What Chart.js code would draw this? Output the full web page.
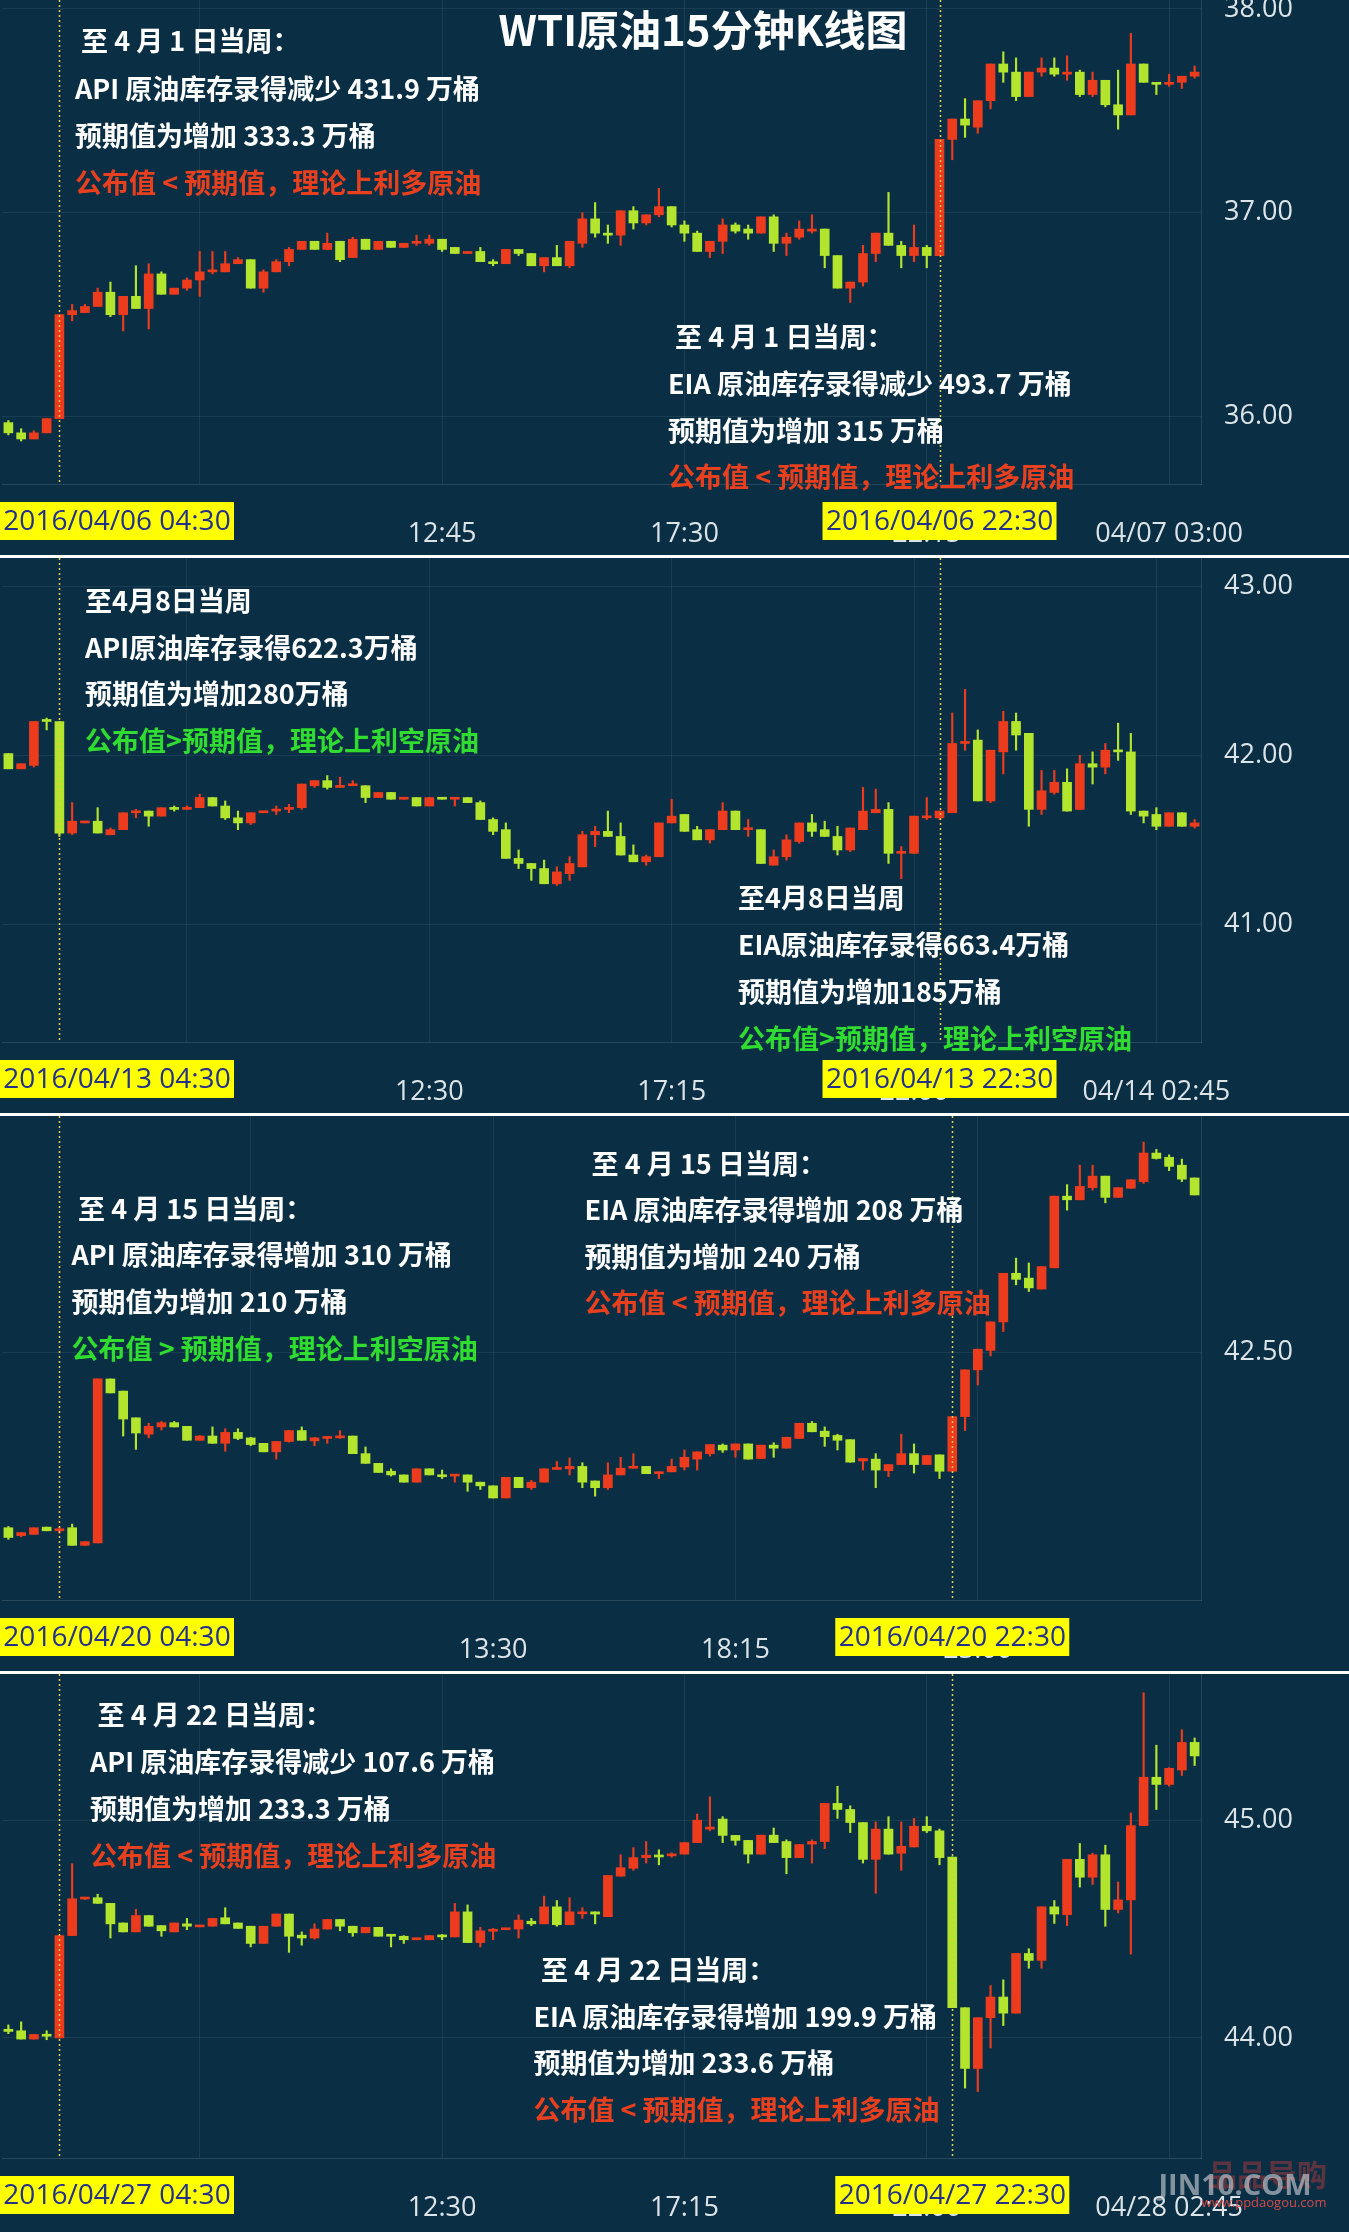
<!DOCTYPE html>
<html lang="zh-CN">
<head>
<meta charset="utf-8">
<title>WTI原油15分钟K线图</title>
<script src="https://cdn.jsdelivr.net/npm/chart.js@4.4.1/dist/chart.umd.min.js"></script>
<style>
  html, body { margin: 0; padding: 0; background: #0a2f45; }
  .panel { position: relative; width: 1349px; height: 558px; }
</style>
</head>
<body>
<div class="panel"><canvas id="panel1"></canvas></div>
<div class="panel"><canvas id="panel2"></canvas></div>
<div class="panel"><canvas id="panel3"></canvas></div>
<div class="panel"><canvas id="panel4"></canvas></div>
<script>
// ---- 2016/04/06 ~ 04/07 ----
const p1Open = [35.97,35.92,35.89,35.92,35.99,36.50,36.51,36.54,36.61,36.50,
  36.59,36.53,36.70,36.60,36.63,36.67,36.71,36.71,36.75,36.77,
  36.63,36.71,36.76,36.82,36.86,36.82,36.86,36.78,36.87,36.82,
  36.86,36.83,36.85,36.85,36.87,36.83,36.80,36.81,36.76,36.75,
  36.82,36.80,36.74,36.78,36.74,36.85,36.97,36.90,36.89,37.01,
  36.95,36.99,37.03,36.94,36.90,36.81,36.86,36.94,36.92,36.90,
  36.98,36.85,36.88,36.91,36.92,36.79,36.63,36.66,36.80,36.90,
  36.84,36.79,36.83,36.79,37.36,37.46,37.42,37.55,37.73,37.69,
  37.57,37.69,37.71,37.68,37.69,37.58,37.65,37.53,37.48,37.73,
  37.64,37.63,37.64,37.67];
const p1High = [35.98,35.94,35.93,35.99,36.50,36.55,36.55,36.63,36.66,36.59,
  36.74,36.75,36.71,36.63,36.68,36.81,36.81,36.81,36.78,36.77,
  36.72,36.77,36.83,36.86,36.86,36.90,36.86,36.88,36.87,36.86,
  36.86,36.85,36.89,36.89,36.87,36.83,36.81,36.83,36.77,36.82,
  36.82,36.80,36.78,36.84,36.86,37.00,37.05,36.94,37.01,37.03,
  36.99,37.12,37.03,36.96,36.91,36.86,36.97,36.95,36.94,36.98,
  36.99,36.90,36.96,36.99,36.92,36.79,36.66,36.84,36.90,37.10,
  36.86,36.94,36.84,37.36,37.46,37.56,37.55,37.73,37.79,37.76,
  37.69,37.76,37.76,37.77,37.70,37.69,37.65,37.70,37.88,37.73,
  37.64,37.68,37.67,37.72];
const p1Low = [35.91,35.88,35.89,35.92,35.99,36.47,36.51,36.54,36.49,36.42,
  36.53,36.43,36.60,36.60,36.62,36.59,36.70,36.71,36.75,36.63,
  36.61,36.71,36.74,36.82,36.82,36.82,36.76,36.78,36.82,36.82,
  36.83,36.83,36.84,36.84,36.81,36.80,36.80,36.76,36.74,36.75,
  36.79,36.74,36.71,36.74,36.73,36.83,36.88,36.85,36.84,36.92,
  36.94,36.98,36.93,36.86,36.81,36.78,36.80,36.90,36.87,36.90,
  36.81,36.79,36.87,36.90,36.73,36.63,36.56,36.64,36.76,36.84,
  36.73,36.76,36.73,36.79,37.26,37.37,37.39,37.51,37.64,37.55,
  37.57,37.67,37.67,37.65,37.57,37.57,37.52,37.41,37.48,37.64,
  37.58,37.62,37.61,37.66];
const p1Close = [35.92,35.89,35.92,35.99,36.50,36.52,36.54,36.61,36.50,36.59,
  36.53,36.70,36.60,36.63,36.67,36.71,36.715,36.75,36.77,36.63,
  36.71,36.76,36.82,36.86,36.82,36.85,36.77,36.87,36.82,36.86,
  36.83,36.85,36.855,36.87,36.82,36.80,36.81,36.76,36.75,36.82,
  36.80,36.74,36.78,36.74,36.86,36.97,36.90,36.89,37.01,36.95,
  36.99,37.03,36.94,36.90,36.81,36.86,36.94,36.91,36.90,36.98,
  36.85,36.88,36.92,36.92,36.79,36.63,36.66,36.80,36.90,36.84,
  36.79,36.83,36.79,37.36,37.46,37.43,37.55,37.73,37.69,37.57,
  37.69,37.71,37.68,37.69,37.58,37.65,37.53,37.48,37.73,37.64,
  37.63,37.64,37.67,37.69];
const p1TickIdx = [15, 34, 53, 72, 91];
const p1TickText = ['', '12:45', '17:30', '22:15', '04/07 03:00'];

// ---- 2016/04/13 ~ 04/14 ----
const p2Open = [42.01,41.92,41.94,42.21,42.20,41.54,41.60,41.61,41.53,41.56,
  41.66,41.67,41.64,41.69,41.68,41.69,41.75,41.70,41.63,41.60,
  41.66,41.67,41.68,41.69,41.82,41.85,41.81,41.82,41.82,41.75,
  41.78,41.74,41.75,41.70,41.75,41.74,41.75,41.72,41.62,41.56,
  41.39,41.36,41.33,41.24,41.30,41.34,41.53,41.55,41.52,41.41,
  41.37,41.40,41.60,41.65,41.56,41.50,41.56,41.67,41.56,41.56,
  41.35,41.40,41.49,41.60,41.56,41.52,41.44,41.56,41.66,41.68,
  41.42,41.42,41.63,41.63,41.66,42.07,42.09,41.73,42.02,42.20,
  42.13,41.68,41.78,41.84,41.68,41.95,41.93,42.03,42.02,41.67,
  41.65,41.58,41.66,41.58];
const p2High = [42.01,41.95,42.20,42.22,42.20,41.72,41.61,41.69,41.57,41.66,
  41.68,41.67,41.69,41.70,41.70,41.77,41.75,41.73,41.67,41.66,
  41.67,41.70,41.71,41.83,41.85,41.88,41.87,41.85,41.82,41.78,
  41.78,41.75,41.75,41.75,41.75,41.75,41.75,41.73,41.63,41.60,
  41.44,41.36,41.38,41.34,41.40,41.55,41.58,41.67,41.60,41.47,
  41.41,41.60,41.74,41.65,41.58,41.56,41.72,41.67,41.62,41.56,
  41.44,41.53,41.60,41.65,41.61,41.58,41.57,41.81,41.80,41.72,
  41.46,41.64,41.75,41.67,42.25,42.39,42.15,42.03,42.26,42.25,
  42.13,41.91,41.91,41.92,42.00,42.02,42.07,42.19,42.13,41.67,
  41.69,41.66,41.66,41.62];
const p2Low = [41.92,41.92,41.93,42.15,41.52,41.53,41.60,41.54,41.53,41.56,
  41.63,41.58,41.64,41.67,41.68,41.69,41.70,41.62,41.56,41.59,
  41.66,41.65,41.66,41.68,41.81,41.80,41.81,41.82,41.72,41.75,
  41.74,41.74,41.70,41.70,41.74,41.70,41.72,41.62,41.53,41.39,
  41.33,41.26,41.24,41.23,41.26,41.34,41.46,41.52,41.41,41.37,
  41.35,41.40,41.60,41.55,41.50,41.48,41.56,41.56,41.52,41.36,
  41.35,41.38,41.48,41.52,41.52,41.41,41.43,41.56,41.66,41.36,
  41.27,41.42,41.62,41.62,41.66,42.03,41.73,41.72,41.89,42.03,
  41.58,41.65,41.77,41.67,41.68,41.83,41.89,41.97,41.65,41.60,
  41.56,41.58,41.58,41.57];
const p2Close = [41.92,41.95,42.20,42.20,41.54,41.61,41.61,41.54,41.56,41.66,
  41.67,41.64,41.69,41.68,41.69,41.75,41.70,41.63,41.60,41.66,
  41.67,41.68,41.69,41.83,41.85,41.81,41.82,41.83,41.75,41.78,
  41.74,41.75,41.70,41.75,41.74,41.75,41.72,41.62,41.55,41.39,
  41.36,41.33,41.24,41.31,41.36,41.53,41.55,41.52,41.41,41.37,
  41.40,41.60,41.64,41.55,41.50,41.56,41.67,41.56,41.57,41.36,
  41.40,41.50,41.60,41.55,41.52,41.44,41.57,41.67,41.68,41.42,
  41.43,41.64,41.64,41.67,42.07,42.08,41.73,42.03,42.20,42.12,
  41.68,41.79,41.84,41.67,41.95,41.93,42.03,42.02,41.67,41.64,
  41.58,41.66,41.58,41.60];
const p2TickIdx = [14, 33, 52, 71, 90];
const p2TickText = ['', '12:30', '17:15', '22:00', '04/14 02:45'];

// ---- 2016/04/20 ----
const p3Open = [42.211,42.198,42.200,42.212,42.206,42.211,42.182,42.186,42.456,42.436,
  42.392,42.365,42.377,42.384,42.378,42.355,42.362,42.350,42.368,42.359,
  42.350,42.336,42.353,42.371,42.354,42.358,42.359,42.362,42.333,42.317,
  42.304,42.298,42.286,42.308,42.298,42.296,42.298,42.286,42.280,42.260,
  42.294,42.277,42.286,42.307,42.308,42.312,42.288,42.277,42.298,42.309,
  42.312,42.300,42.303,42.311,42.324,42.333,42.347,42.339,42.349,42.325,
  42.347,42.342,42.358,42.383,42.370,42.363,42.356,42.321,42.324,42.305,
  42.315,42.333,42.315,42.331,42.304,42.394,42.471,42.503,42.550,42.630,
  42.622,42.604,42.639,42.757,42.751,42.771,42.790,42.755,42.770,42.781,
  42.828,42.821,42.808,42.787];
const p3High = [42.213,42.203,42.211,42.212,42.212,42.217,42.188,42.456,42.456,42.436,
  42.392,42.383,42.386,42.386,42.378,42.363,42.377,42.374,42.374,42.360,
  42.350,42.353,42.371,42.377,42.360,42.360,42.371,42.362,42.344,42.317,
  42.308,42.298,42.308,42.308,42.306,42.298,42.298,42.286,42.280,42.294,
  42.294,42.289,42.308,42.320,42.326,42.318,42.288,42.318,42.327,42.333,
  42.312,42.303,42.324,42.339,42.336,42.348,42.349,42.349,42.349,42.347,
  42.351,42.360,42.383,42.386,42.377,42.365,42.356,42.325,42.333,42.315,
  42.365,42.349,42.330,42.331,42.394,42.471,42.505,42.550,42.630,42.655,
  42.647,42.641,42.757,42.776,42.808,42.808,42.790,42.771,42.784,42.846,
  42.834,42.825,42.818,42.787];
const p3Low = [42.192,42.196,42.200,42.206,42.202,42.182,42.182,42.186,42.433,42.362,
  42.340,42.359,42.372,42.377,42.355,42.355,42.350,42.337,42.356,42.346,
  42.336,42.324,42.352,42.355,42.346,42.350,42.358,42.333,42.317,42.302,
  42.296,42.286,42.286,42.298,42.292,42.286,42.271,42.274,42.260,42.260,
  42.277,42.274,42.286,42.307,42.298,42.277,42.263,42.274,42.298,42.309,
  42.300,42.292,42.303,42.306,42.306,42.329,42.335,42.327,42.324,42.325,
  42.327,42.342,42.358,42.369,42.345,42.339,42.319,42.306,42.277,42.295,
  42.315,42.301,42.315,42.292,42.304,42.371,42.446,42.494,42.534,42.611,
  42.600,42.604,42.639,42.734,42.751,42.767,42.746,42.755,42.770,42.778,
  42.818,42.799,42.781,42.759];
const p3Close = [42.195,42.203,42.211,42.206,42.209,42.182,42.188,42.456,42.433,42.390,
  42.367,42.378,42.384,42.377,42.355,42.362,42.350,42.368,42.358,42.348,
  42.336,42.353,42.371,42.355,42.359,42.360,42.362,42.333,42.317,42.302,
  42.298,42.286,42.308,42.298,42.295,42.298,42.286,42.280,42.260,42.294,
  42.277,42.286,42.308,42.308,42.312,42.286,42.277,42.298,42.309,42.312,
  42.300,42.303,42.312,42.327,42.336,42.348,42.339,42.349,42.324,42.347,
  42.342,42.360,42.383,42.369,42.361,42.355,42.319,42.325,42.306,42.315,
  42.333,42.315,42.330,42.304,42.394,42.471,42.505,42.550,42.630,42.620,
  42.606,42.641,42.757,42.751,42.773,42.790,42.755,42.771,42.784,42.828,
  42.819,42.806,42.785,42.759];
const p3TickIdx = [19, 38, 57, 76];
const p3TickText = ['', '13:30', '18:15', '23:00'];

// ---- 2016/04/27 ~ 04/28 ----
const p4Open = [44.040,44.033,43.995,44.016,44.000,44.470,44.638,44.644,44.618,44.528,
  44.487,44.562,44.516,44.487,44.524,44.510,44.513,44.552,44.528,44.513,
  44.434,44.513,44.569,44.472,44.459,44.500,44.544,44.513,44.483,44.508,
  44.472,44.467,44.451,44.451,44.470,44.464,44.579,44.438,44.490,44.497,
  44.500,44.536,44.524,44.602,44.520,44.570,44.579,44.557,44.743,44.779,
  44.828,44.839,44.836,44.844,44.897,44.959,45.005,44.930,44.907,44.844,
  44.931,44.902,44.828,44.890,44.902,45.077,45.049,44.989,44.820,44.959,
  44.848,44.877,44.972,44.951,44.831,44.139,43.860,44.093,44.188,44.114,
  44.388,44.356,44.602,44.566,44.820,44.738,44.841,44.590,44.634,44.975,
  45.197,45.164,45.230,45.357];
const p4High = [44.060,44.074,44.016,44.033,44.470,44.800,44.643,44.660,44.618,44.528,
  44.590,44.562,44.516,44.528,44.549,44.516,44.549,44.598,44.528,44.513,
  44.513,44.569,44.569,44.487,44.524,44.544,44.544,44.513,44.508,44.508,
  44.475,44.470,44.459,44.470,44.475,44.618,44.611,44.508,44.503,44.503,
  44.565,44.549,44.651,44.631,44.644,44.598,44.579,44.746,44.841,44.874,
  44.902,44.864,44.850,44.897,45.028,45.107,45.016,44.930,44.907,44.931,
  44.964,44.910,44.888,44.910,45.077,45.156,45.066,44.989,44.992,45.016,
  44.992,45.008,45.016,44.959,44.831,44.139,44.093,44.241,44.267,44.388,
  44.410,44.602,44.631,44.820,44.893,44.848,44.885,44.716,45.033,45.585,
  45.344,45.241,45.415,45.377];
const p4Low = [44.020,43.995,43.995,43.992,44.000,44.470,44.636,44.618,44.459,44.487,
  44.487,44.513,44.467,44.487,44.497,44.510,44.513,44.524,44.503,44.418,
  44.434,44.513,44.393,44.426,44.454,44.500,44.492,44.467,44.483,44.467,
  44.418,44.434,44.451,44.451,44.451,44.464,44.438,44.418,44.451,44.497,
  44.459,44.516,44.524,44.513,44.520,44.549,44.524,44.557,44.743,44.770,
  44.803,44.795,44.830,44.844,44.897,44.951,44.897,44.885,44.803,44.844,
  44.897,44.754,44.828,44.803,44.869,45.008,44.943,44.803,44.664,44.844,
  44.770,44.877,44.943,44.795,44.139,43.770,43.754,43.954,44.057,44.114,
  44.320,44.320,44.526,44.516,44.693,44.705,44.513,44.574,44.385,44.975,
  45.049,45.156,45.205,45.251];
const p4Close = [44.030,43.995,44.016,44.008,44.470,44.639,44.643,44.618,44.524,44.487,
  44.562,44.513,44.492,44.528,44.513,44.516,44.549,44.524,44.503,44.434,
  44.513,44.569,44.467,44.459,44.500,44.544,44.513,44.483,44.508,44.467,
  44.467,44.451,44.459,44.470,44.464,44.579,44.438,44.492,44.497,44.503,
  44.541,44.524,44.602,44.520,44.579,44.579,44.569,44.746,44.782,44.828,
  44.839,44.831,44.844,44.897,45.000,44.967,44.930,44.907,44.844,44.931,
  44.897,44.828,44.888,44.902,45.077,45.049,44.989,44.820,44.959,44.844,
  44.880,44.972,44.951,44.828,44.139,43.860,44.093,44.188,44.114,44.388,
  44.356,44.602,44.569,44.820,44.738,44.841,44.590,44.634,44.975,45.197,
  45.164,45.238,45.357,45.295];
const p4TickIdx = [15, 34, 53, 72, 91];
const p4TickText = ['', '12:30', '17:15', '22:00', '04/28 02:45'];

const UP_COLOR = '#ec3b1d';
const DOWN_COLOR = '#b3e52e';
const WHITE_TEXT = '#ffffff';
const RED_TEXT = '#e8401e';
const GREEN_TEXT = '#2fdc2f';
const AXIS_TEXT = '#dde4e8';
const GRID = 'rgba(255,255,255,0.07)';

function drawNotes(ctx, block) {
  ctx.font = 'bold 27px "Noto Sans CJK SC", sans-serif';
  ctx.textBaseline = 'middle';
  ctx.textAlign = 'left';
  block.lines.forEach((line, i) => {
    ctx.fillStyle = line.color || WHITE_TEXT;
    const x = block.x + (i === 0 ? block.indent : 0);
    ctx.fillText(line.text, x, block.y + i * block.gap);
  });
}

const overlayPlugin = {
  id: 'overlay',
  afterDatasetsDraw(chart, args, opts) {
    const { ctx, chartArea, scales } = chart;
    ctx.save();
    ctx.strokeStyle = '#e2cc52';
    ctx.lineWidth = 1.5;
    ctx.setLineDash([2, 3]);
    opts.marks.forEach(m => {
      const x = Math.round(scales.x.getPixelForValue(m.idx)) + 0.5;
      ctx.beginPath();
      ctx.moveTo(x, chartArea.top);
      ctx.lineTo(x, chartArea.bottom);
      ctx.stroke();
    });
    ctx.restore();
  },
  afterDraw(chart, args, opts) {
    const { ctx, scales } = chart;
    ctx.save();

    // yellow time boxes
    opts.marks.forEach(m => {
      const cx = scales.x.getPixelForValue(m.idx);
      const w = 234;
      const x0 = Math.max(0, cx - w / 2);
      ctx.fillStyle = '#ffff00';
      ctx.fillRect(x0, 502, w, 38);
      ctx.fillStyle = '#22318a';
      ctx.font = '28px "Open Sans", sans-serif';
      ctx.textAlign = 'center';
      ctx.textBaseline = 'middle';
      ctx.fillText(m.text, x0 + w / 2, 522);
    });

    opts.notes.forEach(b => drawNotes(ctx, b));

    if (opts.title) {
      ctx.fillStyle = WHITE_TEXT;
      ctx.font = 'bold 42px "Noto Sans CJK SC", sans-serif';
      ctx.textAlign = 'center';
      ctx.textBaseline = 'middle';
      ctx.fillText(opts.title, 703, 30);
    }

    if (opts.watermark) {
      ctx.textAlign = 'center';
      ctx.textBaseline = 'middle';
      ctx.fillStyle = 'rgba(190,60,55,0.45)';
      ctx.font = 'bold 30px "Noto Sans CJK SC", sans-serif';
      ctx.fillText('品品导购', 1267, 501);
      ctx.fillStyle = 'rgba(210,215,220,0.6)';
      ctx.font = 'bold 29px "Open Sans", sans-serif';
      ctx.fillText('JIN10.COM', 1235, 513);
      ctx.fillStyle = '#d04a48';
      ctx.font = '13px "Open Sans", sans-serif';
      ctx.fillText('www.ppdaogou.com', 1264, 529);
    }

    if (opts.separator) {
      ctx.fillStyle = '#ffffff';
      ctx.fillRect(0, 555, chart.width, 3);
    }
    ctx.restore();
  }
};

function renderPanel(id, o, h, l, c, tickIdx, tickText, yMin, yMax, yStep, extra) {
  const ctx = document.getElementById(id);
  const labels = c.map((_, i) => String(i));
  const colors = c.map((v, i) => v >= o[i] ? UP_COLOR : DOWN_COLOR);
  const bodies = c.map((v, i) => [Math.min(o[i], v), Math.max(o[i], v)]);
  const wicks = c.map((v, i) => [l[i], h[i]]);
  const tickMap = new Map(tickIdx.map((v, i) => [v, tickText[i]]));

  return new Chart(ctx, {
    type: 'bar',
    data: {
      labels: labels,
      datasets: [
        {
          label: '实体',
          data: bodies,
          backgroundColor: colors,
          barThickness: 9,
          minBarLength: 2,
          grouped: false
        },
        {
          label: '影线',
          data: wicks,
          backgroundColor: colors,
          barThickness: 1.5,
          grouped: false
        }
      ]
    },
    options: {
      responsive: true,
      maintainAspectRatio: false,
      devicePixelRatio: 1,
      animation: false,
      layout: { padding: { left: 2, top: 0, right: 0, bottom: 0 } },
      plugins: {
        legend: { display: false },
        tooltip: { enabled: false },
        overlay: extra
      },
      scales: {
        x: {
          type: 'category',
          offset: true,
          grid: { color: GRID, offset: false, drawTicks: false },
          border: { color: 'rgba(255,255,255,0.12)' },
          ticks: {
            autoSkip: false,
            maxRotation: 0,
            padding: 34,
            color: AXIS_TEXT,
            font: { family: '"Open Sans", sans-serif', size: 27 },
            callback: (v) => tickMap.has(v) ? tickMap.get(v) : null
          },
          afterFit: (scale) => { scale.height = 74; scale.paddingLeft = 0; scale.paddingRight = 0; }
        },
        y: {
          position: 'right',
          min: yMin,
          max: yMax,
          grid: { color: GRID, drawTicks: false },
          border: { color: 'rgba(255,255,255,0.12)' },
          ticks: {
            stepSize: yStep,
            includeBounds: false,
            padding: 23,
            color: AXIS_TEXT,
            font: { family: '"Open Sans", sans-serif', size: 27 },
            callback: (v) => Number(v).toFixed(2)
          },
          afterFit: (scale) => { scale.width = 148; scale.paddingTop = 0; scale.paddingBottom = 0; }
        }
      }
    },
    plugins: [overlayPlugin]
  });
}

function noteLines(texts, lastColor) {
  return texts.map((t, i) => ({ text: t, color: i === texts.length - 1 ? lastColor : WHITE_TEXT }));
}

renderPanel('panel1', p1Open, p1High, p1Low, p1Close, p1TickIdx, p1TickText, 35.669, 38.044, 1, {
  title: 'WTI原油15分钟K线图',
  separator: true,
  marks: [{ idx: 4, text: '2016/04/06 04:30' }, { idx: 73, text: '2016/04/06 22:30' }],
  notes: [
    { x: 75, y: 41, gap: 47.3, indent: 6,
      lines: noteLines(['至 4 月 1 日当周：', 'API 原油库存录得减少 431.9 万桶', '预期值为增加 333.3 万桶', '公布值 < 预期值，理论上利多原油'], RED_TEXT) },
    { x: 668, y: 337, gap: 46.7, indent: 7,
      lines: noteLines(['至 4 月 1 日当周：', 'EIA 原油库存录得减少 493.7 万桶', '预期值为增加 315 万桶', '公布值 < 预期值，理论上利多原油'], RED_TEXT) }
  ]
});

renderPanel('panel2', p2Open, p2High, p2Low, p2Close, p2TickIdx, p2TickText, 40.304, 43.167, 1, {
  separator: true,
  marks: [{ idx: 4, text: '2016/04/13 04:30' }, { idx: 73, text: '2016/04/13 22:30' }],
  notes: [
    { x: 85, y: 42.5, gap: 46.8, indent: 0,
      lines: noteLines(['至4月8日当周', 'API原油库存录得622.3万桶', '预期值为增加280万桶', '公布值>预期值，理论上利空原油'], GREEN_TEXT) },
    { x: 738, y: 339.6, gap: 46.9, indent: 0,
      lines: noteLines(['至4月8日当周', 'EIA原油库存录得663.4万桶', '预期值为增加185万桶', '公布值>预期值，理论上利空原油'], GREEN_TEXT) }
  ]
});

renderPanel('panel3', p3Open, p3High, p3Low, p3Close, p3TickIdx, p3TickText, 42.092, 42.889, 0.5, {
  separator: true,
  marks: [{ idx: 4, text: '2016/04/20 04:30' }, { idx: 74, text: '2016/04/20 22:30' }],
  notes: [
    { x: 71.5, y: 92.3, gap: 46.9, indent: 6.5,
      lines: noteLines(['至 4 月 15 日当周：', 'API 原油库存录得增加 310 万桶', '预期值为增加 210 万桶', '公布值 > 预期值，理论上利空原油'], GREEN_TEXT) },
    { x: 584.6, y: 47.8, gap: 46.3, indent: 7,
      lines: noteLines(['至 4 月 15 日当周：', 'EIA 原油库存录得增加 208 万桶', '预期值为增加 240 万桶', '公布值 < 预期值，理论上利多原油'], RED_TEXT) }
  ]
});

renderPanel('panel4', p4Open, p4High, p4Low, p4Close, p4TickIdx, p4TickText, 43.449, 45.671, 1, {
  watermark: true,
  marks: [{ idx: 4, text: '2016/04/27 04:30' }, { idx: 74, text: '2016/04/27 22:30' }],
  notes: [
    { x: 90, y: 40.9, gap: 47, indent: 7.6,
      lines: noteLines(['至 4 月 22 日当周：', 'API 原油库存录得减少 107.6 万桶', '预期值为增加 233.3 万桶', '公布值 < 预期值，理论上利多原油'], RED_TEXT) },
    { x: 533.4, y: 296.2, gap: 46.4, indent: 7.6,
      lines: noteLines(['至 4 月 22 日当周：', 'EIA 原油库存录得增加 199.9 万桶', '预期值为增加 233.6 万桶', '公布值 < 预期值，理论上利多原油'], RED_TEXT) }
  ]
});
</script>
</body>
</html>
